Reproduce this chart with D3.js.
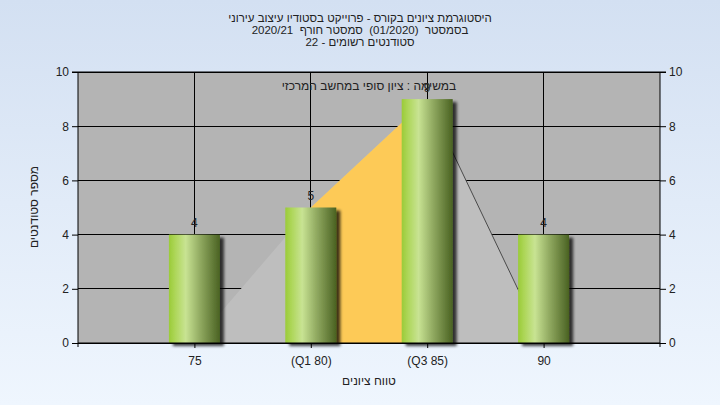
<!DOCTYPE html>
<html><head><meta charset="utf-8">
<script src="https://cdn.jsdelivr.net/npm/d3@7"></script>
<style>html,body{margin:0;padding:0;overflow:hidden;}svg{display:block;}text{white-space:pre;}</style>
</head><body>
<svg id="c" width="720" height="405"></svg>
<script>
const categories = ["75", "(Q1 80)", "(Q3 85)", "90"];
const counts = [4, 5, 9, 4];
const curve = [0, 5, 9, 0];
const yTicks = [0, 2, 4, 6, 8, 10];
const titleLines = [
  "היסטוגרמת ציונים בקורס - פרוייקט בסטודיו עיצוב עירוני",
  "בסמסטר  (01/2020)  סמסטר חורף  2020/21",
  "סטודנטים רשומים - 22"
];
const annotation = "במשימה : ציון סופי במחשב המרכזי";
const xTitle = "טווח ציונים";
const yTitle = "מספר סטודנטים";

const W = 720, H = 405;
const m = {l: 78, r: 660, t: 72, b: 343};
const font = "'Liberation Sans', 'DejaVu Sans', Arial, sans-serif";
const svg = d3.select("#c");
const defs = svg.append("defs");

const bg = defs.append("linearGradient").attr("id","bg").attr("x1",0).attr("y1",0).attr("x2",0).attr("y2",1);
bg.append("stop").attr("offset","0%").attr("stop-color","#d3e0f2");
bg.append("stop").attr("offset","100%").attr("stop-color","#eff6fe");

const bar = defs.append("linearGradient").attr("id","bar").attr("x1",0).attr("y1",0).attr("x2",1).attr("y2",0);
[["0%","#9acb38"],["12%","#add658"],["33%","#c8e393"],["60%","#93ac63"],["100%","#4a6222"]].forEach(s=>bar.append("stop").attr("offset",s[0]).attr("stop-color",s[1]));

const sh = defs.append("filter").attr("id","sh").attr("x","-20%").attr("y","-20%").attr("width","150%").attr("height","150%");
sh.append("feGaussianBlur").attr("in","SourceAlpha").attr("stdDeviation",1.6);
sh.append("feOffset").attr("dx",4).attr("dy",3).attr("result","o");
sh.append("feComponentTransfer").append("feFuncA").attr("type","linear").attr("slope",0.75);
const mg = sh.append("feMerge"); mg.append("feMergeNode"); mg.append("feMergeNode").attr("in","SourceGraphic");

svg.append("rect").attr("width",W).attr("height",H).attr("fill","url(#bg)");

const x = d3.scalePoint().domain(categories).range([m.l, m.r]).padding(1);
const y = d3.scaleLinear().domain([0,10]).range([m.b, m.t]);

// plot background
svg.append("rect").attr("x",m.l).attr("y",m.t).attr("width",m.r-m.l).attr("height",m.b-m.t).attr("fill","#b4b4b4");

// grid
svg.append("g").selectAll("line").data(yTicks).join("line")
  .attr("x1",m.l).attr("x2",m.r).attr("y1",d=>y(d)).attr("y2",d=>y(d)).attr("stroke","#000").attr("shape-rendering","crispEdges");
svg.append("g").selectAll("line").data(categories).join("line")
  .attr("x1",d=>x(d)).attr("x2",d=>x(d)).attr("y1",m.t).attr("y2",m.b).attr("stroke","#000").attr("shape-rendering","crispEdges");

// curve area
const pts = categories.map((c,i)=>[x(c), curve[i]]);
const area = d3.area().x(d=>d[0]).y0(y(0)).y1(d=>y(d[1]));
svg.append("path").datum(pts).attr("d",area).attr("fill","#bebebe");
svg.append("path").datum(pts.slice(1,3)).attr("d",area).attr("fill","#fdca57");
svg.append("path").datum(pts.slice(2,4)).attr("d",d3.line().x(d=>d[0]).y(d=>y(d[1])))
  .attr("fill","none").attr("stroke","#4a4a4a").attr("stroke-width",1);

// bars
const bw = 51;
svg.append("g").selectAll("rect").data(counts).join("rect")
  .attr("x",(d,i)=>x(categories[i])-bw/2).attr("width",bw)
  .attr("y",d=>y(d)).attr("height",d=>y(0)-y(d))
  .attr("fill","url(#bar)").attr("filter","url(#sh)");

// value labels
svg.append("g").selectAll("text").data(counts).join("text")
  .attr("x",(d,i)=>x(categories[i])).attr("y",d=>y(d)-7.5)
  .attr("text-anchor","middle").attr("font-family",font).attr("font-size",12).attr("fill","#222")
  .text(d=>d);

// annotation
svg.append("text").attr("x",369).attr("y",90).attr("text-anchor","middle")
  .attr("direction","rtl").attr("font-family",font).attr("font-size",12).attr("fill","#222").text(annotation);

// axes
const axL = d3.axisLeft(y).tickValues(yTicks).tickSize(6).tickPadding(3);
const axR = d3.axisRight(y).tickValues(yTicks).tickSize(6).tickPadding(3);
const axB = d3.axisBottom(x).tickSize(5).tickPadding(8);
function style(g){
  g.selectAll("path,line").attr("stroke","#000");
  g.selectAll("text").attr("font-family",font).attr("font-size",12).attr("fill","#222");
}
svg.append("g").attr("transform",`translate(${m.l},0)`).call(axL).call(g=>g.select(".domain").attr("d",`M-6,${m.t}H0V${m.b+4}`)).call(style);
svg.append("g").attr("transform",`translate(${m.r},0)`).call(axR).call(g=>g.select(".domain").attr("d",`M6,${m.t}H0V${m.b+4}`)).call(style);
svg.append("g").attr("transform",`translate(0,${m.b})`).call(axB).call(g=>g.select(".domain").attr("d",`M${m.l},0H${m.r}`)).call(style);
svg.append("line").attr("x1",m.l).attr("x2",m.r).attr("y1",m.t).attr("y2",m.t).attr("stroke","#000");

// titles
svg.append("g").selectAll("text").data(titleLines).join("text")
  .attr("x",360).attr("y",(d,i)=>22+i*12).attr("text-anchor","middle").attr("direction","rtl")
  .attr("font-family",font).attr("font-size",11.5).attr("fill","#222").text(d=>d);
svg.append("text").attr("x",369).attr("y",385).attr("text-anchor","middle").attr("direction","rtl")
  .attr("font-family",font).attr("font-size",12).attr("fill","#222").text(xTitle);
svg.append("text").attr("transform","translate(38,207) rotate(-90)").attr("text-anchor","middle").attr("direction","rtl")
  .attr("font-family",font).attr("font-size",12).attr("fill","#222").text(yTitle);
</script>
</body></html>
